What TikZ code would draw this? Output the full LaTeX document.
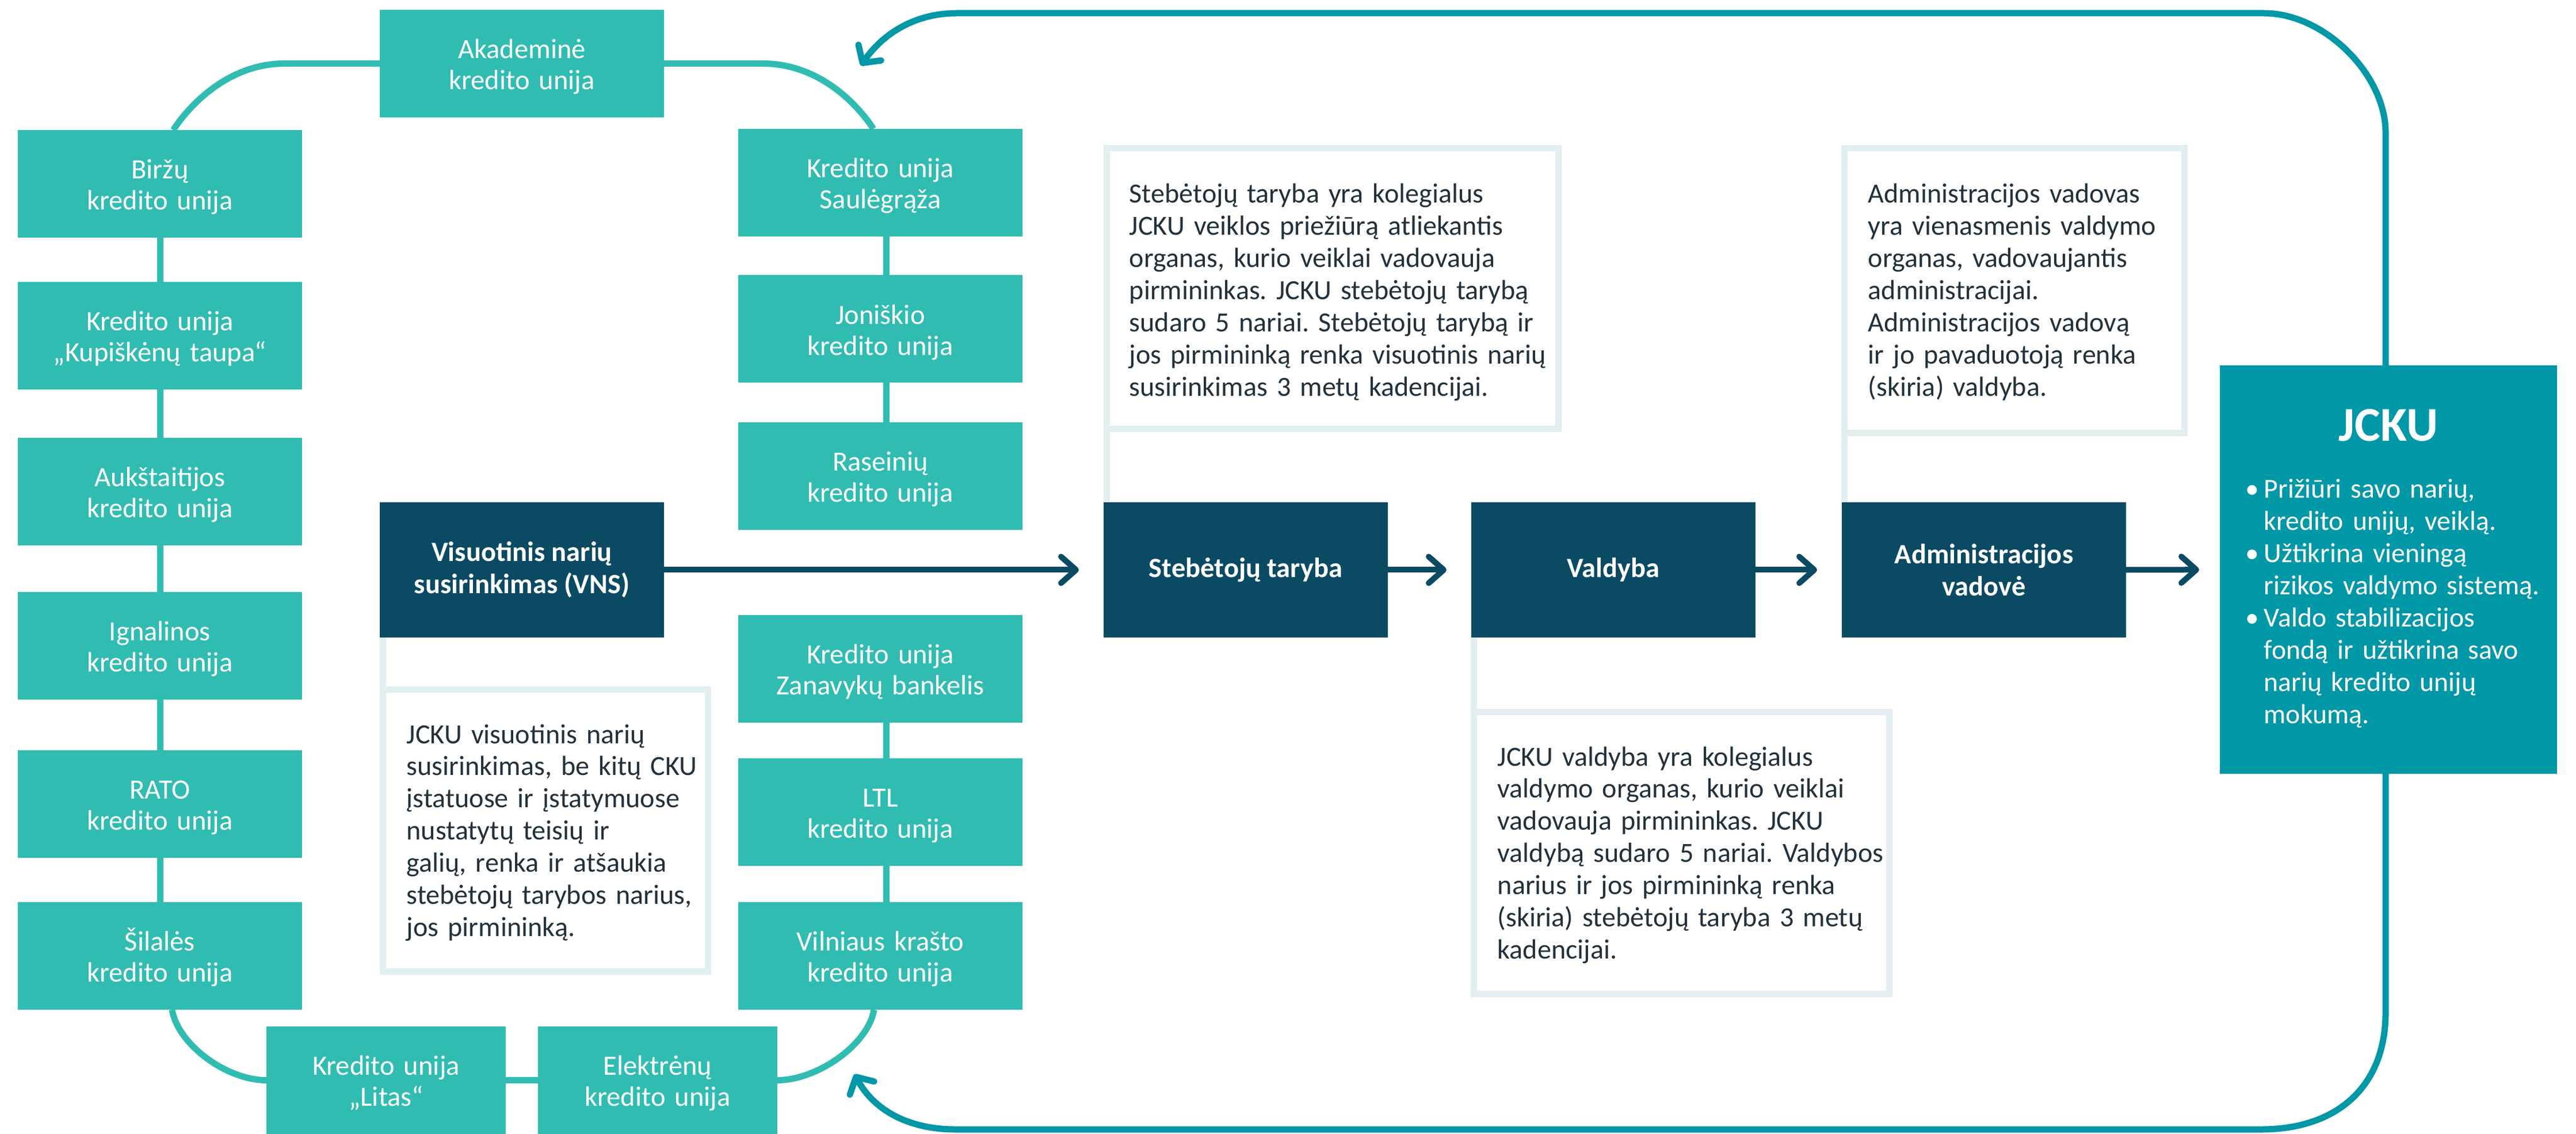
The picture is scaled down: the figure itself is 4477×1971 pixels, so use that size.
\documentclass[tikz,border=0pt]{standalone}
\usepackage{fontspec}
\setmainfont{Carlito}
\usetikzlibrary{arrows.meta,calc}
\definecolor{tealbox}{HTML}{31BCB2}
\definecolor{navy}{HTML}{0A4A62}
\definecolor{jckuc}{HTML}{0097A7}
\definecolor{lightb}{HTML}{E2EEF0}
\definecolor{notetext}{HTML}{22313B}
\frenchspacing
\begin{document}
\begin{tikzpicture}[x=0.1mm,y=-0.1mm,
  tbox/.style={fill=tealbox, text=white, minimum width=49.4mm, minimum height=18.7mm, inner sep=0pt, outer sep=0pt, text width=40mm, align=center, text height=5pt, text depth=10.1pt, font=\fontsize{13.8pt}{15.4pt}\selectfont},
  tboxs/.style={tbox, minimum width=41.6mm},
  dbox/.style={fill=navy, text=white, minimum width=49.4mm, minimum height=23.5mm, inner sep=0pt, outer sep=0pt, align=center, font=\bfseries\fontsize{13.8pt}{15.9pt}\selectfont},
  notebox/.style={draw=lightb, line width=1.1mm, fill=white, inner sep=0pt, outer sep=0pt},
  notetxt/.style={text=notetext, anchor=base west, inner sep=0pt, align=left, font=\frenchspacing\fontsize{13.7pt}{15.9pt}\selectfont},
  noteline/.style={draw=lightb, line width=1.1mm},
  chain/.style={draw=tealbox, line width=1.1mm},
  flow/.style={draw=navy, line width=1mm, -{Straight Barb[length=2.6mm, width=4.6mm, round]}, shorten >=4.3mm},
  loopline/.style={draw=jckuc, line width=1.1mm, {Straight Barb[length=2.2mm, width=4.8mm, round]}-{Straight Barb[length=2.2mm, width=4.8mm, round]}}
]
\path[use as bounding box] (0,0) rectangle (4477,1971);

% big loop from JCKU back to the member unions
\coordinate (loopbot) at (1485,1867);
\coordinate (looptop) at (1496,114);
\draw[loopline] (loopbot) .. controls (1523,1937) and (1590,1963) .. (1660,1963)
  -- (3930,1963) .. controls (4060,1963) and (4146,1890) .. (4146,1760)
  -- (4146,230) .. controls (4146,130) and (4040,23) .. (3935,23)
  -- (1663,23) .. controls (1583,23) and (1530,65) .. (looptop);

% member credit unions
\node[tbox] (akad) at (907,110.5) {Akademinė\\kredito unija};
\node[tbox] (birzu) at (278,319.5) {Biržų\\kredito unija};
\node[tbox] (kupis) at (278,583.5) {Kredito unija\\„Kupiškėnų taupa“};
\node[tbox] (aukst) at (278,854.5) {Aukštaitijos\\kredito unija};
\node[tbox] (ignal) at (278,1122.5) {Ignalinos\\kredito unija};
\node[tbox] (rato) at (278,1397.5) {RATO\\kredito unija};
\node[tbox] (silale) at (278,1661.5) {Šilalės\\kredito unija};
\node[tbox] (saul) at (1530,317.5) {Kredito unija\\Saulėgrąža};
\node[tbox] (jon) at (1530,572) {Joniškio\\kredito unija};
\node[tbox] (rasein) at (1530,827.5) {Raseinių\\kredito unija};
\node[tbox] (zanav) at (1530,1162) {Kredito unija\\Zanavykų bankelis};
\node[tbox] (ltl) at (1530,1411) {LTL\\kredito unija};
\node[tbox] (vilnius) at (1530,1661.5) {Vilniaus krašto\\kredito unija};
\node[tboxs] (litas) at (671,1877.5) {Kredito unija\\„Litas“};
\node[tboxs] (elek) at (1143,1877.5) {Elektrėnų\\kredito unija};

% chain connectors
\draw[chain] (akad.west) -- ++(-166,0) .. controls +(-84,0) and +(40,-60) .. ($(birzu.north)+(23,0)$);
\draw[chain] (akad.east) -- ++(172,0) .. controls +(84,0) and +(-40,-60) .. ($(saul.north)+(-12,0)$);
\draw[chain] (birzu) -- (kupis);
\draw[chain] (kupis) -- (aukst);
\draw[chain] (aukst) -- (ignal);
\draw[chain] (ignal) -- (rato);
\draw[chain] (rato) -- (silale);
\draw[chain] ($(saul.south)+(10,0)$) -- ($(jon.north)+(10,0)$);
\draw[chain] ($(jon.south)+(10,0)$) -- ($(rasein.north)+(10,0)$);
\draw[chain] ($(zanav.south)+(10,0)$) -- ($(ltl.north)+(10,0)$);
\draw[chain] ($(ltl.south)+(10,0)$) -- ($(vilnius.north)+(10,0)$);
\draw[chain] ($(silale.south)+(21,0)$) .. controls +(10,60) and +(-70,0) .. (litas.west);
\draw[chain] ($(vilnius.south)+(-11,0)$) .. controls +(-10,60) and +(70,0) .. (elek.east);
\draw[chain] (litas) -- (elek);

% governance bodies
\node[dbox] (vns) at (907,990.5) {Visuotinis narių\\susirinkimas (VNS)};
\node[dbox] (steb) at (2165,990.5) {Stebėtojų taryba};
\node[dbox] (vald) at (2804,990.5) {Valdyba};
\node[dbox] (admin) at (3448,990.5) {Administracijos\\vadovė};
\node[fill=jckuc, minimum width=58.6mm, minimum height=71mm, inner sep=0pt, outer sep=0pt] (jcku) at (4151,990) {};
\node[text=white, anchor=base, inner sep=0pt, font=\bfseries\fontsize{24pt}{28pt}\selectfont] (jckutitle) at (4151,767) {JCKU};
\node[text=white, anchor=base west, inner sep=0pt, text width=54mm, align=left, font=\fontsize{13.6pt}{15.9pt}\selectfont] (jckulist) at (3902,866)
  {\makebox[9.1pt][l]{•}Prižiūri savo narių,\\
   \hspace*{9.1pt}kredito unijų, veiklą.\\
   \makebox[9.1pt][l]{•}Užtikrina vieningą\\
   \hspace*{9.1pt}rizikos valdymo sistemą.\\
   \makebox[9.1pt][l]{•}Valdo stabilizacijos\\
   \hspace*{9.1pt}fondą ir užtikrina savo\\
   \hspace*{9.1pt}narių kredito unijų\\
   \hspace*{9.1pt}mokumą.};

\draw[flow] (vns) -- (steb);
\draw[flow] (steb) -- (vald);
\draw[flow] (vald) -- (admin);
\draw[flow, shorten >=3.6mm] (admin) -- (jcku);

% notes
\node[notebox, minimum width=56.5mm, minimum height=49mm] (vnsnote) at (948,1443.5) {};
\node[notebox, minimum width=78.5mm, minimum height=48.8mm] (stebnote) at (2316,501.5) {};
\node[notebox, minimum width=72.2mm, minimum height=49mm] (valdnote) at (2922.5,1482.5) {};
\node[notebox, minimum width=59.1mm, minimum height=49.5mm] (adminnote) at (3501,505) {};
\draw[noteline] (vnsnote.north west) -- (vnsnote.north west |- vns.south);
\draw[noteline] (stebnote.south west) -- (stebnote.south west |- steb.north);
\draw[noteline] (valdnote.north west) -- (valdnote.north west |- vald.south);
\draw[noteline] (adminnote.south west) -- (adminnote.south west |- admin.north);

\node[notetxt, text width=52mm] (vnstxt) at (706,1292)
  {JCKU visuotinis narių\\susirinkimas, be kitų CKU\\įstatuose ir įstatymuose\\nustatytų teisių ir\\galių, renka ir atšaukia\\stebėtojų tarybos narius,\\jos pirmininką.};
\node[notetxt, text width=74mm] (stebtxt) at (1962,353)
  {Stebėtojų taryba yra kolegialus\\JCKU veiklos priežiūrą atliekantis\\organas, kurio veiklai vadovauja\\pirmininkas. JCKU stebėtojų tarybą\\sudaro 5 nariai. Stebėtojų tarybą ir\\jos pirmininką renka visuotinis narių\\susirinkimas 3 metų kadencijai.};
\node[notetxt, text width=68mm] (valdtxt) at (2602,1331)
  {JCKU valdyba yra kolegialus\\valdymo organas, kurio veiklai\\vadovauja pirmininkas. JCKU\\valdybą sudaro 5 nariai. Valdybos\\narius ir jos pirmininką renka\\(skiria) stebėtojų taryba 3 metų\\kadencijai.};
\node[notetxt, text width=55mm] (admintxt) at (3246,353)
  {Administracijos vadovas\\yra vienasmenis valdymo\\organas, vadovaujantis\\administracijai.\\Administracijos vadovą\\ir jo pavaduotoją renka\\(skiria) valdyba.};
\end{tikzpicture}
\end{document}
